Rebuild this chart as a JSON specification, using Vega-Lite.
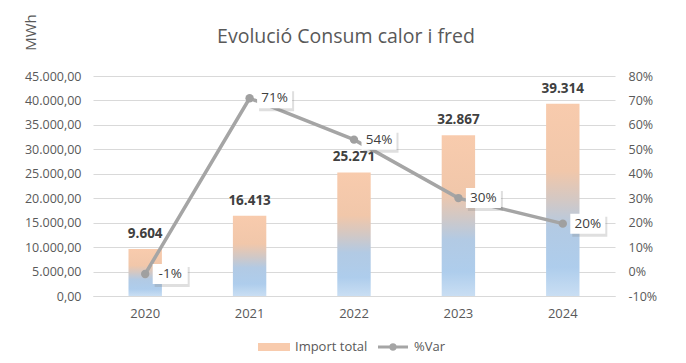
{
  "$schema": "https://vega.github.io/schema/vega-lite/v6.json",
  "autosize": {"type": "none"},
  "width": 522,
  "height": 220,
  "padding": {"left": 93, "top": 76, "right": 71, "bottom": 67},
  "background": "white",
  "title": {
    "text": "Evolució Consum calor i fred",
    "fontSize": 19.5,
    "font": "Open Sans",
    "fontWeight": "normal",
    "color": "#595959",
    "offset": -34,
    "dx": -8
  },
  "config": {
    "locale": {"number": {"decimal": ",", "thousands": ".", "grouping": [3], "currency": ["", " €"], "minus": "-"}},
    "font": "Open Sans",
    "view": {"stroke": null},
    "axis": {"labelFont": "Open Sans", "labelColor": "#595959", "labelFontSize": 12.5, "titleFont": "Open Sans", "labelOverlap": false}
  },
  "data": {
    "values": [
      {"year": "2020", "total": 9604, "var": -0.01},
      {"year": "2021", "total": 16413, "var": 0.709},
      {"year": "2022", "total": 25271, "var": 0.5397},
      {"year": "2023", "total": 32867, "var": 0.3006},
      {"year": "2024", "total": 39314, "var": 0.196}
    ]
  },
  "encoding": {
    "x": {
      "field": "year",
      "type": "nominal",
      "scale": {"paddingInner": 0.68, "paddingOuter": 0.34},
      "axis": {"title": null, "labelAngle": 0, "ticks": false, "domain": true, "domainColor": "#d9d9d9", "labelPadding": 11, "labelFontSize": 13}
    }
  },
  "layer": [
    {
      "layer": [
        {
          "mark": {
            "type": "bar",
            "fill": {
              "gradient": "linear", "x1": 0, "y1": 1, "x2": 0, "y2": 0,
              "stops": [
                {"offset": 0, "color": "#c9def3"},
                {"offset": 0.15, "color": "#aecdec"},
                {"offset": 0.35, "color": "#b2cae4"},
                {"offset": 0.5, "color": "#d3c8c4"},
                {"offset": 0.65, "color": "#f1c7aa"},
                {"offset": 1, "color": "#f8cbad"}
              ]
            }
          },
          "encoding": {
            "y": {
              "field": "total",
              "type": "quantitative",
              "scale": {"domain": [0, 45000]},
              "axis": {
                "title": "MWh",
                "titleFontSize": 15,
                "titleFontWeight": "normal",
                "titleColor": "#595959",
                "titleAngle": -90,
                "titleAlign": "center",
                "titleBaseline": "middle",
                "titleX": -63,
                "titleY": -44,
                "values": [0, 5000, 10000, 15000, 20000, 25000, 30000, 35000, 40000, 45000],
                "tickCount": 10,
                "format": ",.2f",
                "ticks": false,
                "domain": false,
                "gridColor": "#d9d9d9",
                "labelPadding": 12
              }
            },
            "color": {
              "datum": "Import total",
              "type": "nominal",
              "scale": {"domain": ["Import total", "%Var"], "range": ["#f8cbad", "#a5a5a5"]},
              "legend": {
                "title": null,
                "orient": "none",
                "legendX": 171,
                "legendY": 261,
                "direction": "horizontal",
                "labelFontSize": 13,
                "labelColor": "#595959",
                "labelOffset": 11,
                "symbolSize": 400,
                "symbolStrokeWidth": 0,
                "columnPadding": 10,
                "encode": {
                  "symbols": {
                    "update": {
                      "shape": {"signal": "datum.value === 'Import total' ? 'M-1.6,-0.4H1.6V0.4H-1.6Z' : 'M-1.5,-0.14H1.5V0.14H-1.5Z M0.38,0A0.38,0.38 0 1,1 -0.38,0A0.38,0.38 0 1,1 0.38,0Z'"},
                      "fill": {"signal": "datum.value === 'Import total' ? {gradient: 'linear', x1: 0, y1: 1, x2: 0, y2: 0, stops: [{offset: 0, color: '#b4d2ef'}, {offset: 0.45, color: '#b4d2ef'}, {offset: 0.55, color: '#f6c9ab'}, {offset: 1, color: '#f6c9ab'}]} : '#a5a5a5'"},
                      "opacity": {"value": 1},
                      "strokeWidth": {"value": 0}
                    }
                  }
                }
              }
            }
          }
        },
        {
          "mark": {"type": "text", "dy": -15, "fontSize": 13.5, "fontWeight": "bold", "color": "#404040", "font": "Open Sans"},
          "encoding": {
            "y": {"field": "total", "type": "quantitative"},
            "text": {"field": "total", "type": "quantitative", "format": ",.0f"}
          }
        }
      ]
    },
    {
      "layer": [
        {
          "mark": {"type": "line", "color": "#a5a5a5", "strokeWidth": 3.5},
          "encoding": {
            "y": {
              "field": "var",
              "type": "quantitative",
              "scale": {"domain": [-0.1, 0.8]},
              "axis": {
                "orient": "right",
                "title": null,
                "values": [-0.1, 0, 0.1, 0.2, 0.3, 0.4, 0.5, 0.6, 0.7, 0.8],
                "tickCount": 10,
                "format": ".0%",
                "grid": false,
                "ticks": false,
                "domain": false,
                "labelPadding": 13
              }
            },
            "color": {"datum": "%Var", "type": "nominal"}
          }
        },
        {
          "mark": {"type": "point", "filled": true, "opacity": 1, "size": 70, "color": "#a0a0a0"},
          "encoding": {"y": {"field": "var", "type": "quantitative"}}
        },
        {
          "mark": {"type": "point", "filled": true, "opacity": 0.25, "color": "#7f7f7f", "size": 400, "xOffset": 27, "yOffset": 3,
            "shape": "M-1.75,-1H1.75V1H-1.75Z"},
          "encoding": {"y": {"field": "var", "type": "quantitative"}}
        },
        {
          "mark": {"type": "point", "filled": true, "opacity": 1, "color": "white", "size": 400, "xOffset": 25, "yOffset": 0,
            "shape": "M-1.75,-1H1.75V1H-1.75Z"},
          "encoding": {"y": {"field": "var", "type": "quantitative"}}
        },
        {
          "mark": {"type": "text", "dx": 25, "fontSize": 13.5, "color": "#404040", "font": "Open Sans"},
          "encoding": {
            "y": {"field": "var", "type": "quantitative"},
            "text": {"field": "var", "type": "quantitative", "format": ".0%"}
          }
        }
      ]
    }
  ],
  "resolve": {"scale": {"y": "independent"}}
}
